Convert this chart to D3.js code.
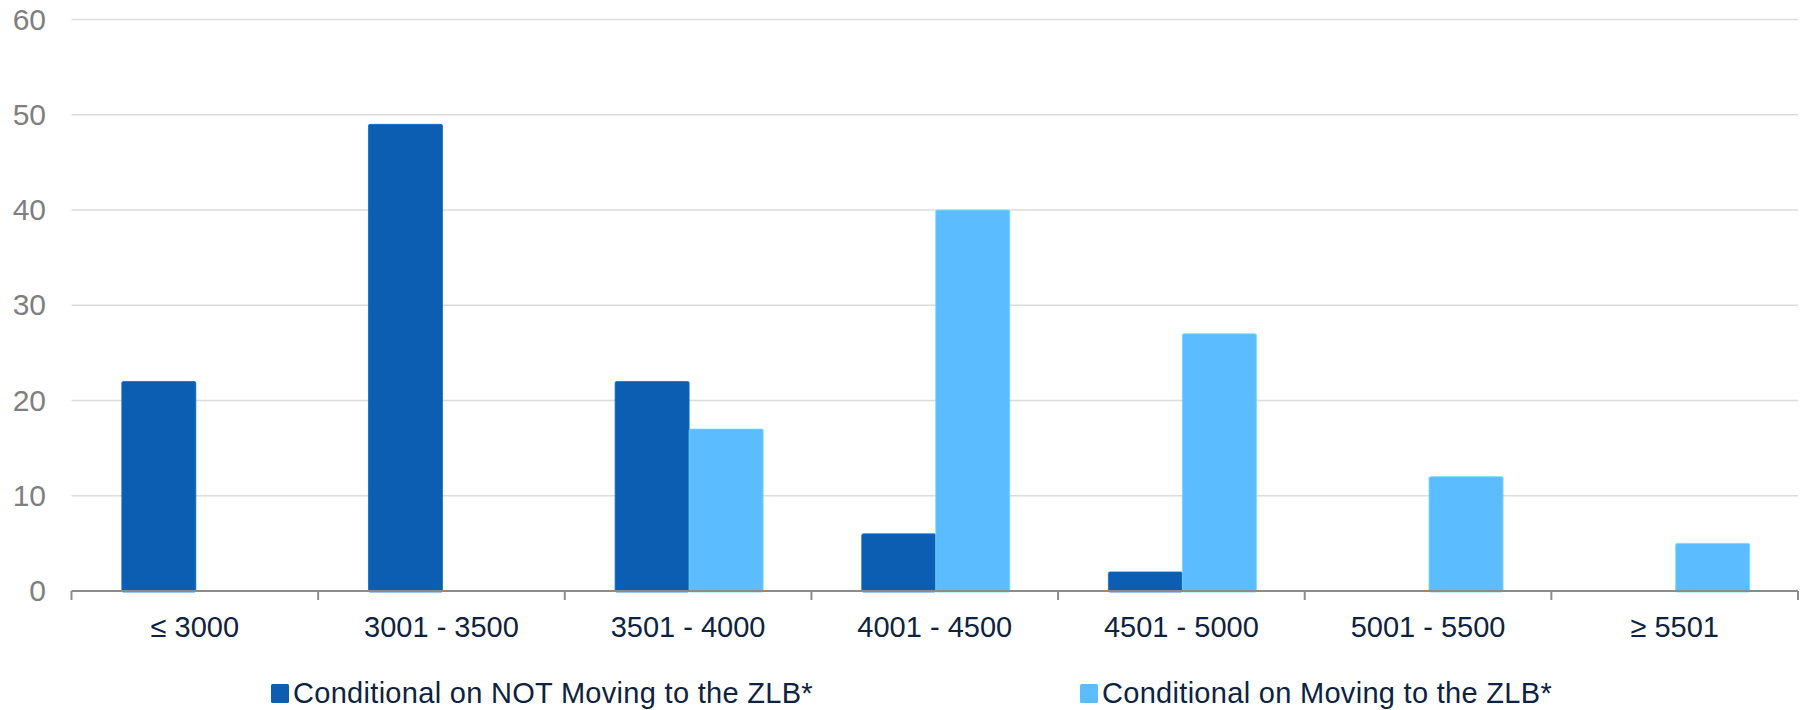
<!DOCTYPE html>
<html>
<head>
<meta charset="utf-8">
<script src="https://cdn.jsdelivr.net/npm/d3@7"></script>
<style>
  html, body { margin: 0; padding: 0; background: #ffffff; }
  svg { display: block; font-family: "Liberation Sans", Arial, sans-serif; }
</style>
</head>
<body>
<svg id="chart" width="1807" height="710"></svg>
<script>
// Distribution of responses by bucket
const categories = ["≤ 3000", "3001 - 3500", "3501 - 4000", "4001 - 4500", "4501 - 5000", "5001 - 5500", "≥ 5501"];
const seriesNames = ["Conditional on NOT Moving to the ZLB*", "Conditional on Moving to the ZLB*"];
const notMovingValues = [22, 49, 22, 6, 2, 0, 0];
const movingValues = [0, 0, 17, 40, 27, 12, 5];
const yTicks = [0, 10, 20, 30, 40, 50, 60];
const seriesColors = ["#0b5eb2", "#5bbdff"];

const svg = d3.select("#chart");
const plot = { left: 71.5, right: 1798, top: 19.6, bottom: 591 };

const x = d3.scaleBand()
  .domain(categories)
  .range([plot.left, plot.right])
  .paddingInner(0.4)
  .paddingOuter(0.2);

const xSeries = d3.scaleBand()
  .domain(seriesNames)
  .range([0, x.bandwidth()]);

const y = d3.scaleLinear()
  .domain([0, 60])
  .range([plot.bottom, plot.top]);

const color = d3.scaleOrdinal().domain(seriesNames).range(seriesColors);

// Horizontal gridlines
svg.append("g")
  .selectAll("line")
  .data(yTicks.filter(d => d !== 0))
  .join("line")
  .attr("x1", plot.left)
  .attr("x2", plot.right)
  .attr("y1", d => y(d))
  .attr("y2", d => y(d))
  .attr("stroke", "#dcdcdc")
  .attr("stroke-width", 1.5);

// Y axis labels
const yAxis = d3.axisLeft(y).tickValues(yTicks).tickSize(0).tickPadding(0);
const gy = svg.append("g")
  .attr("transform", `translate(46,0)`)
  .call(yAxis);
gy.select(".domain").remove();
gy.selectAll("text")
  .attr("fill", "#7f7f7f")
  .style("font-size", "30px")
  .style("font-family", "'Liberation Sans', Arial, sans-serif");

// Bars
const rows = categories.map((c, i) => ({
  category: c,
  values: [
    { series: seriesNames[0], value: notMovingValues[i] },
    { series: seriesNames[1], value: movingValues[i] }
  ]
}));

const groups = svg.append("g")
  .selectAll("g")
  .data(rows)
  .join("g")
  .attr("transform", d => `translate(${x(d.category) + 1},0)`);

groups.selectAll("rect")
  .data(d => d.values.filter(v => v.value > 0))
  .join("rect")
  .attr("x", d => xSeries(d.series))
  .attr("width", xSeries.bandwidth())
  .attr("y", d => y(d.value))
  .attr("height", d => y(0) - y(d.value) + 1)
  .attr("rx", 1.5)
  .attr("fill", d => color(d.series))
  .attr("stroke", d => d3.color(color(d.series)).brighter(0.4))
  .attr("stroke-width", 0.8);

// X axis: baseline, boundary ticks and labels
const xAxis = d3.axisBottom(x).tickSize(0).tickPadding(0);
const gx = svg.append("g")
  .attr("transform", `translate(0,${plot.bottom})`)
  .call(xAxis);
gx.select(".domain").remove();
gx.selectAll("text")
  .attr("dy", null)
  .attr("y", 46)
  .attr("fill", "#0e2241")
  .style("font-size", "29px")
  .style("font-family", "'Liberation Sans', Arial, sans-serif");

svg.append("line")
  .attr("x1", plot.left)
  .attr("x2", plot.right)
  .attr("y1", plot.bottom)
  .attr("y2", plot.bottom)
  .attr("stroke", "#8c8c8c")
  .attr("stroke-width", 2);

const boundaries = d3.range(categories.length + 1).map(i => plot.left + i * x.step());
svg.append("g")
  .selectAll("line")
  .data(boundaries)
  .join("line")
  .attr("x1", d => d)
  .attr("x2", d => d)
  .attr("y1", plot.bottom)
  .attr("y2", plot.bottom + 9)
  .attr("stroke", "#8c8c8c")
  .attr("stroke-width", 2);

// Legend
const legendX = [271, 1080];
const legend = svg.append("g")
  .selectAll("g")
  .data(seriesNames)
  .join("g")
  .attr("transform", (d, i) => `translate(${legendX[i]},703)`);

legend.append("rect")
  .attr("x", 0)
  .attr("y", -19)
  .attr("width", 18)
  .attr("height", 19)
  .attr("rx", 1.5)
  .attr("fill", d => color(d));

legend.append("text")
  .attr("x", 22)
  .attr("y", 0)
  .attr("fill", "#0e2241")
  .style("font-size", "29px")
  .style("letter-spacing", "0.3px")
  .text(d => d);
</script>
</body>
</html>
